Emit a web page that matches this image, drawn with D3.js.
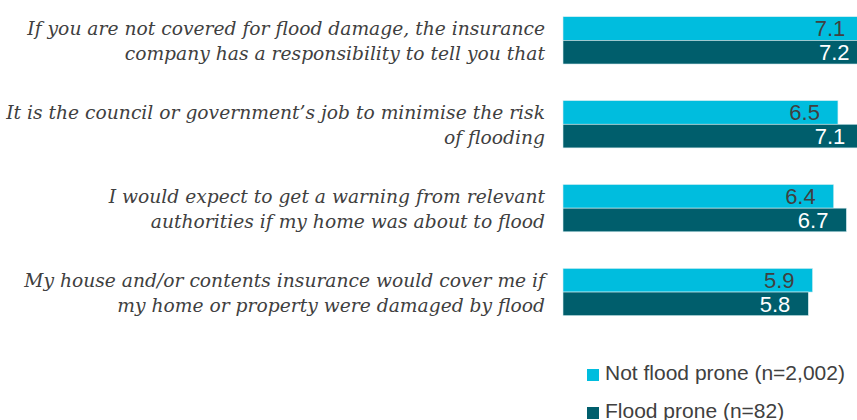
<!DOCTYPE html>
<html>
<head>
<meta charset="utf-8">
<script src="https://cdn.jsdelivr.net/npm/d3@7/dist/d3.min.js"></script>
<style>
  html, body { margin: 0; padding: 0; background: #fff; }
  svg { display: block; }
</style>
</head>
<body>
<script>
// Survey statements (each shown on two lines)
const statements = [
  ["If you are not covered for flood damage, the insurance", "company has a responsibility to tell you that"],
  ["It is the council or government\u2019s job to minimise the risk", "of flooding"],
  ["I would expect to get a warning from relevant", "authorities if my home was about to flood"],
  ["My house and/or contents insurance would cover me if", "my home or property were damaged by flood"]
];
const seriesNames = ["Not flood prone (n=2,002)", "Flood prone (n=82)"];
const notFloodProne = [7.1, 6.5, 6.4, 5.9];
const floodProne = [7.2, 7.1, 6.7, 5.8];
const seriesColors = ["#00BDDE", "#005E6C"];
const labelColors = ["#404040", "#ffffff"];

const width = 857, height = 420;
const svg = d3.select("body").append("svg")
  .attr("width", width).attr("height", height);

const ids = statements.map((d, i) => i);
const y = d3.scaleBand().domain(ids).range([16.7, 315.7])
  .paddingInner(0.436).paddingOuter(0);
const ySeries = d3.scaleBand().domain([0, 1]).range([0, y.bandwidth()]);
const x = d3.scaleLinear().domain([0, 10]).range([563, 986]);

const rows = ids.map(i => [notFloodProne[i], floodProne[i]]);

const group = svg.selectAll("g.cat").data(rows).join("g")
  .attr("class", "cat")
  .attr("transform", (d, i) => `translate(0,${y(i)})`);

group.selectAll("rect").data(d => d).join("rect")
  .attr("x", x(0))
  .attr("y", (d, j) => ySeries(j))
  .attr("width", d => x(d) - x(0))
  .attr("height", ySeries.bandwidth())
  .attr("fill", (d, j) => seriesColors[j])
  .attr("stroke", "#d8eef2")
  .attr("stroke-width", 0.6);

group.selectAll("text.val").data(d => d).join("text")
  .attr("class", "val")
  .attr("x", d => x(d) - 18)
  .attr("y", (d, j) => ySeries(j) + ySeries.bandwidth() / 2)
  .attr("dy", "0.35em")
  .attr("text-anchor", "end")
  .attr("font-family", "'Liberation Sans', Arial, sans-serif")
  .attr("font-size", 22)
  .attr("fill", (d, j) => labelColors[j])
  .text(d => d.toFixed(1));

// Statement labels, right aligned against the bars
const labels = svg.selectAll("text.cat-label").data(statements).join("text")
  .attr("class", "cat-label")
  .attr("text-anchor", "end")
  .attr("font-family", "'DejaVu Serif', Georgia, serif")
  .attr("font-style", "italic")
  .attr("font-size", 18.7)
  .attr("fill", "#404040");
labels.each(function(lines, i) {
  const c = y(i) + y.bandwidth() / 2;
  d3.select(this).selectAll("tspan").data(lines).join("tspan")
    .attr("x", 545)
    .attr("y", (l, k) => c - 5.5 + k * 25.5)
    .text(l => l);
});

// Legend
const legend = svg.selectAll("g.legend").data(seriesNames).join("g")
  .attr("class", "legend")
  .attr("transform", (d, i) => `translate(587,${369 + i * 38})`);
legend.append("rect")
  .attr("width", 12).attr("height", 12)
  .attr("fill", (d, i) => seriesColors[i]);
legend.append("text")
  .attr("x", 18).attr("y", 11)
  .attr("font-family", "'Liberation Sans', Arial, sans-serif")
  .attr("font-size", 21)
  .attr("fill", "#404040")
  .text(d => d);
</script>
</body>
</html>
